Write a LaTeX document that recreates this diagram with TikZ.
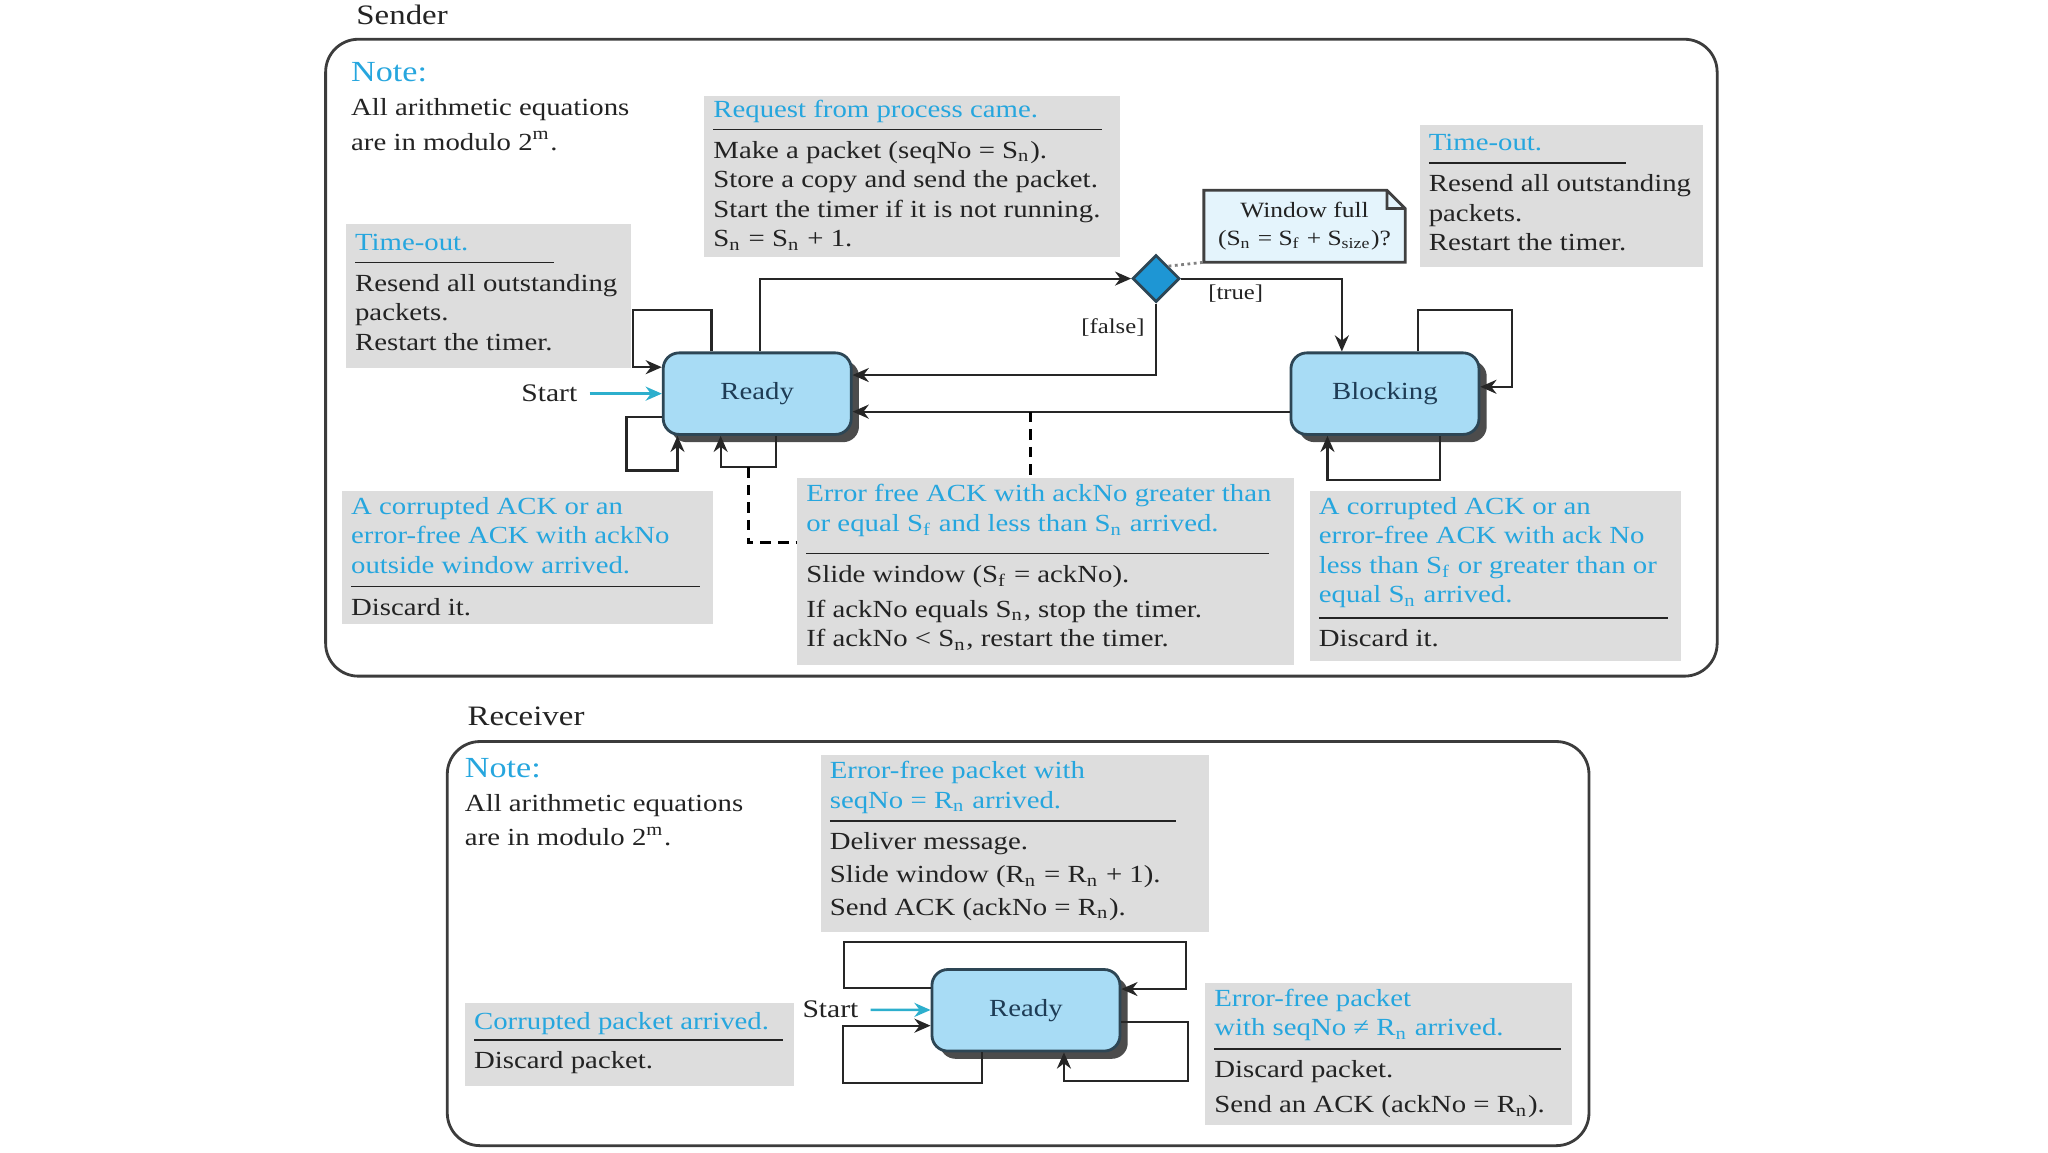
\documentclass[tikz,border=0pt]{standalone}
\usepackage{fontspec}
\setmainfont{Liberation Serif}[FakeStretch=1.17]
\usepackage{xcolor}
\usetikzlibrary{arrows.meta}
\usetikzlibrary{shapes.geometric,shadows,positioning}

\definecolor{hdblue}{RGB}{38,166,222}
\definecolor{boxgray}{RGB}{221,221,221}
\definecolor{stfill}{RGB}{168,220,245}
\definecolor{stline}{RGB}{45,70,85}
\definecolor{sttext}{RGB}{30,60,85}
\definecolor{txtdark}{RGB}{35,35,35}
\definecolor{dmfill}{RGB}{30,150,212}
\definecolor{ntfill}{RGB}{228,244,252}
\definecolor{startcol}{RGB}{45,175,205}
\definecolor{frmline}{RGB}{60,60,60}

\newcommand{\tsub}[1]{\textsubscript{#1}}
\newcommand{\hd}[2][6.6pt]{\rule{0pt}{#1}\textcolor{hdblue}{#2}}
\newcommand{\hdline}[2][4.4pt]{\\[-#1]\rule{#2}{0.5pt}\\[-0.5pt]}
\newcommand{\boxbody}[3]{\parbox[t][#2][t]{#1}{\leftskip=2.6pt\rightskip=-12pt plus 1fil\relax #3}}

\begin{document}
\begin{tikzpicture}[x=0.3721pt,y=-0.3721pt]
  \tikzset{frame/.style = {draw=frmline, line width=0.8pt, rounded corners=9.3pt}}
  \tikzset{state/.style = {rectangle, rounded corners=4.5pt, draw=stline, line width=0.8pt, fill=stfill,
      minimum width=53.5pt, minimum height=23.2pt, inner sep=0pt, text=sttext, font=\fontsize{7pt}{8pt}\selectfont,
      drop shadow={shadow xshift=2.2pt, shadow yshift=-2.2pt, fill=black!70, opacity=1}}}
  \tikzset{decision/.style = {diamond, draw=stline, line width=0.8pt, fill=dmfill, minimum width=13.4pt, minimum height=13.4pt, inner sep=0pt}}
  \tikzset{gbox/.style = {fill=boxgray, anchor=north west, inner sep=0pt, text=txtdark, font=\fontsize{7pt}{8.4pt}\selectfont}}
  \tikzset{notetxt/.style = {anchor=north west, inner sep=0pt, align=left, text=txtdark, font=\fontsize{7pt}{9.8pt}\selectfont}}
  \tikzset{wnote/.style = {fill=ntfill, minimum width=56.9pt, minimum height=20.1pt, inner sep=0pt, align=center, text=txtdark, font=\fontsize{6.2pt}{7.8pt}\selectfont}}
  \tikzset{noteline/.style = {draw=black!75, line width=0.8pt}}
  \tikzset{sectlbl/.style = {anchor=west, inner sep=0pt, text=txtdark, font=\fontsize{8pt}{9pt}\selectfont}}
  \tikzset{lbl/.style = {inner sep=0pt, text=txtdark, font=\fontsize{7.2pt}{8pt}\selectfont}}
  \tikzset{guard/.style = {inner sep=0pt, text=txtdark, font=\fontsize{6pt}{7pt}\selectfont}}
  \tikzset{trans/.style = {-{Stealth[length=4.6pt,width=4pt]}, line width=0.6pt, draw=black!85}}
  \tikzset{startarr/.style = {-{Stealth[length=4.6pt,width=4pt]}, line width=0.7pt, draw=startcol, shorten <=3.3pt}}
  \tikzset{link/.style = {line width=0.9pt, dash pattern=on 3pt off 2pt}}
  \tikzset{hint/.style = {densely dotted, line width=0.8pt, draw=black!50}}

  \useasboundingbox (0,0) rectangle (1566,881);

  % sender
  \node[sectlbl] (sndlbl) at (272,11) {Sender};
  \draw[frame] (249,30) rectangle (1313,517);
  \node[notetxt] (sndnote) at (268,47) {{\fontsize{8.3pt}{9pt}\selectfont\textcolor{hdblue}{Note:}}\\ All arithmetic equations\\ are in modulo 2\textsuperscript{m}.};

  \node[gbox] (req) at (538,73) {\boxbody{118.3pt}{45.8pt}{\hd[6pt]{Request from process came.}\hdline[4.7pt]{110.5pt}
      Make a packet (seqNo = S\tsub{n}).\\ Store a copy and send the packet.\\ Start the timer if it is not running.\\ S\tsub{n} = S\tsub{n} + 1.}};
  \node[gbox] (toutL) at (264,171) {\boxbody{81.1pt}{40.9pt}{\hd[7.4pt]{Time-out.}\hdline[4.7pt]{56.5pt}
      Resend all outstanding\\ packets.\\ Restart the timer.}};
  \node[gbox] (toutR) at (1085,95) {\boxbody{80.7pt}{40.5pt}{\hd[7.4pt]{Time-out.}\hdline[4.7pt]{56.2pt}
      Resend all outstanding\\ packets.\\ Restart the timer.}};
  \node[gbox] (corrL) at (261,375) {\boxbody{105.6pt}{37.9pt}{\hd{A corrupted ACK or an\\ error-free ACK with ackNo\\ outside window arrived.}\hdline{99.3pt}
      Discard it.}};
  \node[gbox] (errf) at (609,365) {\boxbody{141.4pt}{53.2pt}{\hd[6.8pt]{Error free ACK with ackNo greater than\\ or equal S\tsub{f} and less than S\tsub{n} arrived.}\hdline[1.9pt]{131.7pt}
      Slide window (S\tsub{f} = ackNo).\\[1.6pt] If ackNo equals S\tsub{n}, stop the timer.\\ If ackNo < S\tsub{n}, restart the timer.}};
  \node[gbox] (corrR) at (1001,375) {\boxbody{105.6pt}{48.4pt}{\hd{A corrupted ACK or an\\ error-free ACK with ack No\\ less than S\tsub{f} or greater than or\\ equal S\tsub{n} arrived.}\hdline[3.9pt]{99.3pt}
      Discard it.}};

  \node[state] (rdy) at (579,301) {Ready};
  \node[state] (blk) at (1059,301) {Blocking};
  \node[decision] (dia) at (884,213) {};
  \node[wnote] (wnt) at (997.5,173) {Window full\\(S\tsub{n} = S\tsub{f} + S\tsub{size})?};
  \fill[white] ([shift={(-14,0)}]wnt.north east) -- (wnt.north east) -- ([shift={(0,14)}]wnt.north east) -- cycle;
  \draw[noteline] (wnt.south west) -- (wnt.north west) -- ([shift={(-14,0)}]wnt.north east) -- ([shift={(0,14)}]wnt.north east)
      -- (wnt.south east) -- cycle ([shift={(-14,0)}]wnt.north east) |- ([shift={(0,14)}]wnt.north east);
  \draw[hint] (dia.north east) -- (wnt.south west);
  \node[lbl] (sst) at (420,301) {Start};

  \draw[startarr] (sst) -- (rdy);
  \draw[trans] ([shift={(75,0)}]rdy.north west) |- (dia.west);
  \draw[trans] (dia.south) |- node[guard, pos=0.17, left=3pt] {[false]} ([shift={(0,18)}]rdy.north east);
  \draw[trans] (dia.east) -| node[guard, pos=0.17, below=1.5pt] {[true]} ([shift={(40,0)}]blk.north west);
  \draw[trans] ([shift={(0,46)}]blk.north west) -- coordinate[pos=0.592] (lnk1) ([shift={(0,46)}]rdy.north east);
  \draw[trans] ([shift={(38,0)}]rdy.north west) |- ++(-60,-32) |- ([shift={(0,12)}]rdy.north west);
  \draw[trans] ([shift={(0,50)}]rdy.north west) -| ++(-27,41) -| ([shift={(12,0)}]rdy.south west);
  \draw[trans] ([shift={(87,0)}]rdy.south west) |- coordinate[pos=0.75] (lnk2) ++(-42,24) -- ([shift={(45,0)}]rdy.south west);
  \draw[trans] ([shift={(98,0)}]blk.north west) |- ++(72,-32) |- ([shift={(0,27)}]blk.north east);
  \draw[trans] ([shift={(115,0)}]blk.south west) |- ++(-86,34) -- ([shift={(29,0)}]blk.south west);
  \draw[link] (lnk1) -- (lnk1 |- errf.north);
  \draw[link] (lnk2) |- ([shift={(0,50)}]errf.north west);

  % receiver
  \node[sectlbl] (rcvlbl) at (357,548) {Receiver};
  \draw[frame] (342,567) rectangle (1215,876);
  \node[notetxt] (rcvnote) at (355,579) {{\fontsize{8.3pt}{9pt}\selectfont\textcolor{hdblue}{Note:}}\\ All arithmetic equations\\ are in modulo 2\textsuperscript{m}.};

  \node[gbox] (rerr) at (627,577) {\boxbody{110.5pt}{50.2pt}{\hd{Error-free packet with\\ seqNo = R\tsub{n} arrived.}\hdline{98.6pt}
      Deliver message.\\[0.9pt] Slide window (R\tsub{n} = R\tsub{n} + 1).\\[0.9pt] Send ACK (ackNo = R\tsub{n}).}};
  \node[gbox] (rcorr) at (355,766) {\boxbody{93.7pt}{23.8pt}{\hd[7.6pt]{Corrupted packet arrived.}\hdline[5pt]{87.8pt}
      Discard packet.}};
  \node[gbox] (rneq) at (921,751) {\boxbody{104.5pt}{40.5pt}{\hd{Error-free packet\\ with seqNo ≠ R\tsub{n} arrived.}\hdline{98.6pt}
      Discard packet.\\[1.6pt] Send an ACK (ackNo = R\tsub{n}).}};

  \node[state] (rrdy) at (784.5,772.5) {Ready};
  \node[lbl] (rst) at (635,772) {Start};

  \draw[startarr] (rst) -- (rrdy);
  \draw[trans] ([shift={(0,15)}]rrdy.north west) -| ++(-66,-35) -| ++(261,36) -- ([shift={(0,16)}]rrdy.north east);
  \draw[trans] ([shift={(39,0)}]rrdy.south west) |- ++(-106,23) |- ([shift={(0,44)}]rrdy.north west);
  \draw[trans] ([shift={(0,41)}]rrdy.north east) -| ++(51,45) -| ([shift={(102,0)}]rrdy.south west);

\end{tikzpicture}
\end{document}
